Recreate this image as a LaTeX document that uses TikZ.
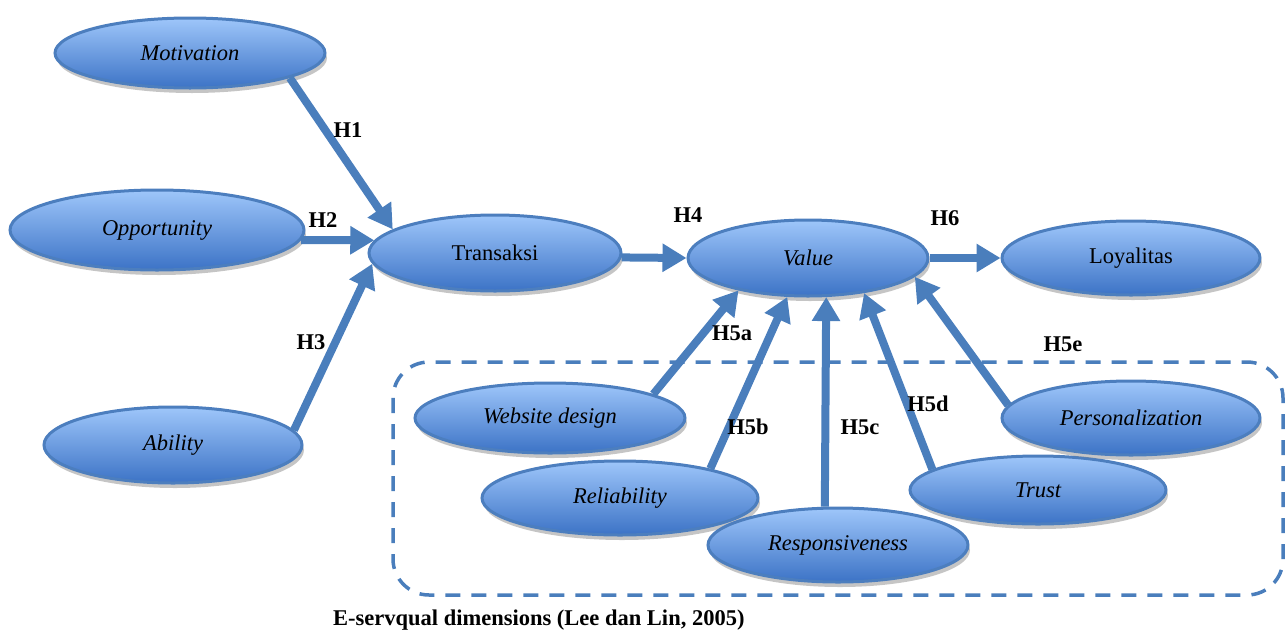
\documentclass[tikz,border=0pt]{standalone}
\usepackage{fontspec}
\setmainfont{Liberation Serif}
\usetikzlibrary{shapes.geometric,arrows.meta,shadows}
\definecolor{arrowblue}{RGB}{74,126,188}
\definecolor{edgeblue}{RGB}{76,126,190}
\definecolor{toplight}{RGB}{158,198,250}
\definecolor{botdark}{RGB}{60,115,198}
\tikzset{
  oval/.style={ellipse, draw=edgeblue, line width=3pt, inner sep=0pt,
    top color=toplight, bottom color=botdark,
    drop shadow={shadow xshift=2pt, shadow yshift=-5pt, fill=black!45, opacity=0.5},
    font=\fontsize{22.5}{27}\selectfont\itshape},
  upright/.style={font=\fontsize{22.5}{27}\selectfont},
  harrow/.style={draw=arrowblue, line width=8pt, -{Triangle[width=27pt,length=24pt]}},
  hlabel/.style={font=\fontsize{22.5}{27}\selectfont\bfseries, inner sep=0pt},
  dimbox/.style={draw=arrowblue, line width=3.5pt, dash pattern=on 15pt off 11pt, rounded corners=36pt}
}
\begin{document}
\begin{tikzpicture}[x=1pt,y=-1pt]
\useasboundingbox (0,0) rectangle (1285,635);
% dashed box of dimensions
\coordinate (boxnw) at (393,362);
\coordinate (boxse) at (1283,595);
\draw[dimbox] (boxnw) rectangle (boxse);
% nodes
\node[oval, minimum width=270pt, minimum height=70pt] (mot) at (190,53) {Motivation};
\node[oval, minimum width=294pt, minimum height=80pt] (opp) at (157,230) {Opportunity};
\node[oval, minimum width=258pt, minimum height=76pt] (abl) at (173,445) {Ability};
\node[oval, upright, minimum width=252pt, minimum height=76pt] (tra) at (495,253) {Transaksi};
\node[oval, minimum width=240pt, minimum height=76pt] (val) at (808,258) {Value};
\node[oval, upright, minimum width=258pt, minimum height=74pt] (loy) at (1131,258) {Loyalitas};
\node[oval, minimum width=270pt, minimum height=70pt] (web) at (550,418) {Website design};
\node[oval, minimum width=276pt, minimum height=74pt] (rel) at (620,498) {Reliability};
\node[oval, minimum width=256pt, minimum height=68pt] (tru) at (1038,490) {Trust};
\node[oval, minimum width=258pt, minimum height=74pt] (per) at (1131,418) {Personalization};
\node[oval, minimum width=260pt, minimum height=74pt] (res) at (838,545) {Responsiveness};
% arrows
\draw[harrow] (mot.-14) -- (tra.167);
\draw[harrow] (opp.-4.9) -- (tra.174.8);
\draw[harrow] (abl.7.2) -- (tra.185.7);
\draw[harrow] (tra.-2.3) -- (val.180);
\draw[harrow] (val.0) -- (loy.180);
\draw[harrow] (web.13) -- (val.205);
\draw[harrow] (rel.18) -- (val.242);
\draw[harrow] (res.109.5) -- (val.-65.7);
\draw[harrow] (tru.169.5) -- (val.-32);
\draw[harrow] (per.174) -- (val.-10.4);
% labels
\node[hlabel] (h1) at (348,130) {H1};
\node[hlabel] (h2) at (323,220) {H2};
\node[hlabel] (h3) at (311,342) {H3};
\node[hlabel] (h4) at (688,215) {H4};
\node[hlabel] (h6) at (945,218) {H6};
\node[hlabel] (h5a) at (732,333) {H5a};
\node[hlabel] (h5b) at (748,427) {H5b};
\node[hlabel] (h5c) at (860,427) {H5c};
\node[hlabel] (h5d) at (928,404) {H5d};
\node[hlabel] (h5e) at (1063,344) {H5e};
\node[hlabel, anchor=west] (caption) at (333,620) {E-servqual dimensions (Lee dan Lin, 2005)};
\end{tikzpicture}
\end{document}
